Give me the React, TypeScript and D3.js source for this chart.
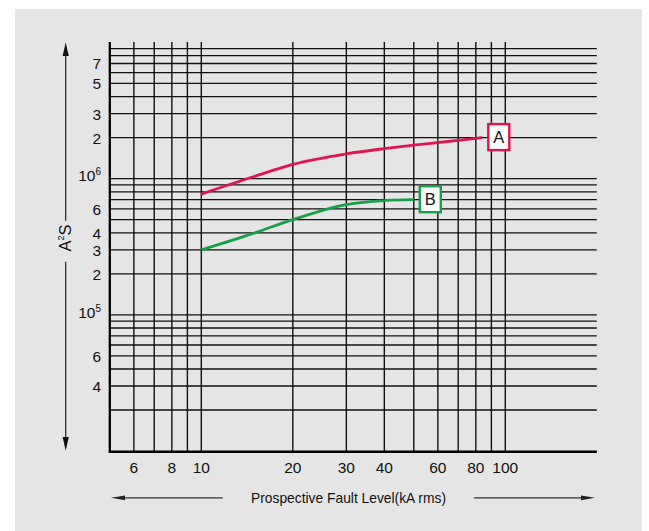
import React from "react";
import * as d3 from "d3";

// ---- data ----
const curveA_x = [10, 15, 20, 30, 40, 50, 60, 70, 84];
const curveA_y = [7.7e5, 1.04e6, 1.27e6, 1.52e6, 1.66e6, 1.76e6, 1.84e6, 1.91e6, 2.0e6];
const curveB_x = [10, 15, 20, 30, 40, 50];
const curveB_y = [3.0e5, 4.0e5, 5.0e5, 6.45e5, 6.9e5, 7.0e5];
const seriesNames = ["A", "B"];

const xGridValues = [6, 7, 8, 9, 10, 20, 30, 40, 50, 60, 70, 80, 90, 100];
const xTickValues = [6, 8, 10, 20, 30, 40, 60, 80, 100];
const xTickLabels = ["6", "8", "10", "20", "30", "40", "60", "80", "100"];

const yGridValues = [
  9e6, 8e6, 7e6, 6e6, 5e6, 4e6, 3e6, 2e6, 1e6,
  9e5, 8e5, 7e5, 6e5, 5e5, 4e5, 3e5, 2e5, 1e5,
  9e4, 8e4, 7e4, 6e4, 5e4, 4e4, 3e4, 2e4,
];
// label positions as printed on the original sheet
const yLabelValues = [7e6, 5e6, 3e6, 2e6, 1e6, 6e5, 4e5, 3e5, 2e5, 1e5, 5e4, 3e4];
const yLabelTexts = ["7", "5", "3", "2", "10|6", "6", "4", "3", "2", "10|5", "6", "4"];

const xTitle = "Prospective Fault Level(kA rms)";

export default function App() {
  const W = 649, H = 531;
  const x = d3.scaleLog().domain([5, 200]).range([109.8, 596.8]);
  const y = d3.scaleLog().domain([1e4, 1e7]).range([451, 42.4]);

  const line = d3
    .line<[number, number]>()
    .x((d) => x(d[0]))
    .y((d) => y(d[1]))
    .curve(d3.curveMonotoneX);

  const series = [
    { name: seriesNames[0], xs: curveA_x, ys: curveA_y, color: "#e2144f" },
    { name: seriesNames[1], xs: curveB_x, ys: curveB_y, color: "#17a04a" },
  ];

  const font = "'Liberation Sans', Arial, Helvetica, sans-serif";
  const gridColor = "#111";
  const top = y(1e7) - 0.5;
  const bottom = y(1e4);

  return (
    <svg
      width={W}
      height={H}
      style={{ position: "absolute", left: 0, top: 0 }}
      fontFamily={font}
    >
      <rect x={0} y={0} width={W} height={H} fill="#ffffff" />
      <rect x={15} y={9} width={627} height={H - 9} fill="#e5e5e5" />

      {/* horizontal grid */}
      {yGridValues.map((v, i) => (
        <line
          key={"h" + i}
          x1={x(5)}
          x2={x(200)}
          y1={y(v)}
          y2={y(v)}
          stroke={gridColor}
          strokeWidth={1.3}
        />
      ))}
      {/* vertical grid */}
      {xGridValues.map((v, i) => (
        <line
          key={"v" + i}
          x1={x(v)}
          x2={x(v)}
          y1={top}
          y2={bottom}
          stroke={gridColor}
          strokeWidth={1.4}
        />
      ))}
      {/* axes */}
      <line x1={x(5)} x2={x(5)} y1={top} y2={bottom + 1.5} stroke="#000" strokeWidth={2.3} />
      <line x1={x(5) - 1} x2={x(200)} y1={bottom + 0.8} y2={bottom + 0.8} stroke="#000" strokeWidth={2.4} />

      {/* curves */}
      {series.map((s) => {
        const pts: [number, number][] = s.xs.map((v, i) => [v, s.ys[i]]);
        const last = pts[pts.length - 1];
        const ex = x(last[0]);
        const ey = y(last[1]);
        return (
          <g key={s.name}>
            <path d={line(pts) || ""} fill="none" stroke={s.color} strokeWidth={2.8} />
            <rect
              x={ex + 6}
              y={ey - 13.5}
              width={21}
              height={26}
              fill="#ffffff"
              stroke={s.color}
              strokeWidth={2.4}
            />
            <text
              x={ex + 16.5}
              y={ey + 5.8}
              textAnchor="middle"
              fontSize={16.5}
              fill="#111"
            >
              {s.name}
            </text>
          </g>
        );
      })}

      {/* y labels */}
      {yLabelValues.map((v, i) => {
        const t = yLabelTexts[i];
        if (t.includes("|")) {
          const [base, exp] = t.split("|");
          return (
            <text key={"yl" + i} x={101} y={y(v) + 2.8} textAnchor="end" fontSize={15.5} fill="#111">
              {base}
              <tspan fontSize={10} dy={-6}>{exp}</tspan>
            </text>
          );
        }
        return (
          <text key={"yl" + i} x={101} y={y(v) + 6} textAnchor="end" fontSize={15.5} fill="#111">
            {t}
          </text>
        );
      })}

      {/* x labels */}
      {xTickValues.map((v, i) => (
        <text key={"xl" + i} x={x(v)} y={472.5} textAnchor="middle" fontSize={15.5} fill="#111">
          {xTickLabels[i]}
        </text>
      ))}

      {/* x title with arrows */}
      <text
        x={348.5}
        y={502.7}
        textAnchor="middle"
        fontSize={15}
        textLength={195}
        lengthAdjust="spacingAndGlyphs"
        fill="#111"
      >
        {xTitle}
      </text>
      <line x1={124} x2={222.6} y1={497.8} y2={497.8} stroke="#333" strokeWidth={1.2} />
      <polygon points="111,497.8 125,495.4 125,500.2" fill="#222" />
      <line x1={474} x2={582} y1={497.8} y2={497.8} stroke="#333" strokeWidth={1.2} />
      <polygon points="595,497.8 581,495.4 581,500.2" fill="#222" />

      {/* y title with arrows */}
      <line x1={65.7} x2={65.7} y1={54} y2={220.7} stroke="#222" strokeWidth={1.2} />
      <polygon points="65.7,42.5 62.6,56 68.8,56" fill="#111" />
      <line x1={65.7} x2={65.7} y1={261.7} y2={438} stroke="#222" strokeWidth={1.2} />
      <polygon points="65.7,450.7 62.6,437 68.8,437" fill="#111" />
      <text
        transform="translate(71,238) rotate(-90)"
        textAnchor="middle"
        fontSize={16.5}
        fill="#111"
      >
        A<tspan fontSize={9} dy={-7}>2</tspan>
        <tspan dy={7}>S</tspan>
      </text>
    </svg>
  );
}
